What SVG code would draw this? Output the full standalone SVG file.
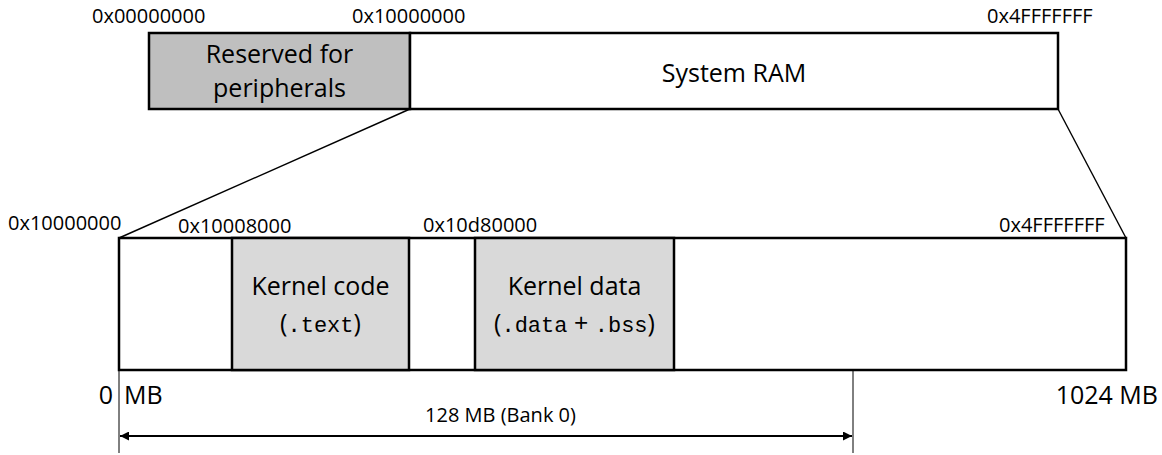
<svg xmlns="http://www.w3.org/2000/svg" width="1162" height="455" viewBox="0 0 1162 455">
  <defs>
    <style>
      .box { stroke: #000; stroke-width: 2.5; }
      .addr { font-family: "Open Sans", "Liberation Sans", sans-serif; font-size: 20px; fill: #000; }
      .lbl { font-family: "Open Sans", "Liberation Sans", sans-serif; font-size: 25px; fill: #000; text-anchor: middle; }
      .mono { font-family: "Liberation Mono", "DejaVu Sans Mono", monospace; font-size: 22px; }
      .dim { stroke: #000; stroke-width: 1; fill: none; }
      .zoom { stroke: #000; stroke-width: 1.4; fill: none; }
    </style>
    <marker id="arrowhead" viewBox="0 0 10 10" refX="10" refY="5" markerWidth="10" markerHeight="9" markerUnits="userSpaceOnUse" orient="auto-start-reverse">
      <path d="M0,0 L10,5 L0,10 z" fill="#000"/>
    </marker>
  </defs>
  <rect width="1162" height="455" fill="#fff"/>

  <!-- Whole physical address space -->
  <g id="reserved-peripherals">
    <rect class="box" x="149" y="33" width="261" height="76" fill="#bfbfbf"/>
    <text class="lbl" x="279.5" y="63">Reserved for</text>
    <text class="lbl" x="279.5" y="97">peripherals</text>
  </g>
  <g id="system-ram">
    <rect class="box" x="410" y="33" width="648" height="76" fill="#fff"/>
    <text class="lbl" x="734" y="82">System RAM</text>
  </g>
  <g id="top-addresses">
    <text class="addr" x="92" y="23">0x00000000</text>
    <text class="addr" x="352" y="23">0x10000000</text>
    <text class="addr" x="987" y="23">0x4FFFFFFF</text>
  </g>

  <!-- Expanded view of system RAM -->
  <g id="ram-detail">
    <rect class="box" x="119" y="238" width="1007" height="132" fill="#fff"/>
  </g>
  <g id="kernel-code">
    <rect class="box" x="232" y="238" width="177" height="132" fill="#d9d9d9"/>
    <text class="lbl" x="320.5" y="295">Kernel code</text>
    <text class="lbl" x="320.5" y="332">(<tspan class="mono">.text</tspan>)</text>
  </g>
  <g id="kernel-data">
    <rect class="box" x="475" y="238" width="199" height="132" fill="#d9d9d9"/>
    <text class="lbl" x="574.5" y="295">Kernel data</text>
    <text class="lbl" x="574.5" y="332">(<tspan class="mono">.data</tspan> + <tspan class="mono">.bss</tspan>)</text>
  </g>
  <g id="bottom-addresses">
    <text class="addr" x="8" y="230">0x10000000</text>
    <text class="addr" x="178" y="233">0x10008000</text>
    <text class="addr" x="423" y="232">0x10d80000</text>
    <text class="addr" x="999" y="232">0x4FFFFFFF</text>
  </g>

  <!-- Size labels -->
  <g id="size-labels">
    <text class="lbl" x="113" y="404" text-anchor="end" style="text-anchor:end">0</text>
    <text class="lbl" x="124" y="404" style="text-anchor:start">MB</text>
    <text class="lbl" x="1158" y="404" style="text-anchor:end">1024 MB</text>
    <text class="addr" x="500.5" y="422" text-anchor="middle">128 MB (Bank 0)</text>
  </g>

  <g id="connectors">
    <line class="zoom" x1="410" y1="109" x2="119" y2="238"/>
    <line class="zoom" x1="1058" y1="109" x2="1126" y2="238"/>
    <line class="dim" x1="119" y1="370" x2="119" y2="453"/>
    <line class="dim" x1="853" y1="370" x2="853" y2="453"/>
    <line x1="120" y1="436" x2="852" y2="436" stroke="#000" stroke-width="2" marker-start="url(#arrowhead)" marker-end="url(#arrowhead)"/>
  </g>
</svg>
